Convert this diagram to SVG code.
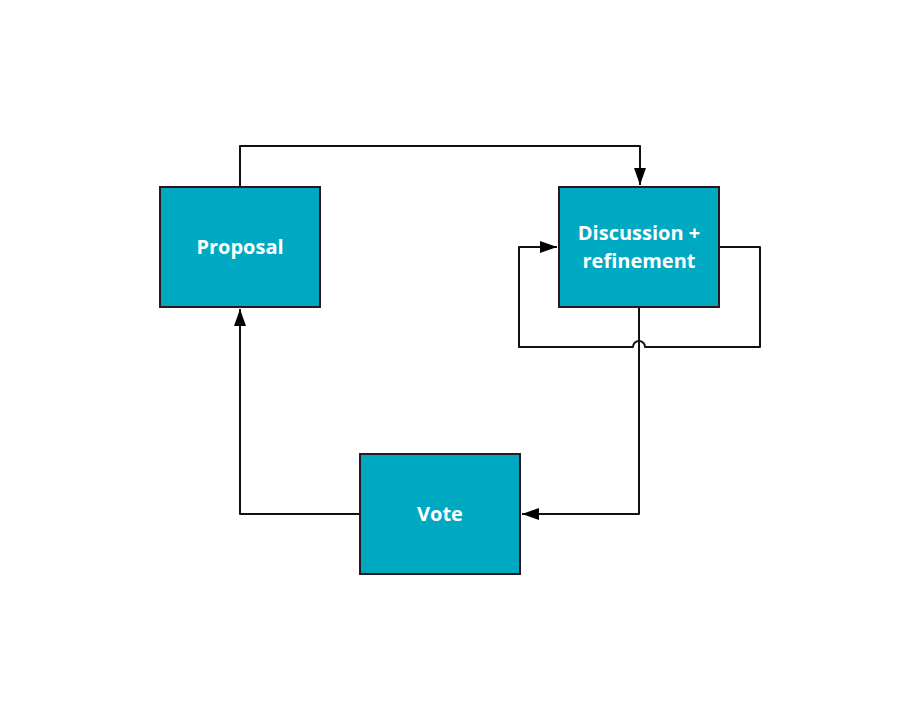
<svg xmlns="http://www.w3.org/2000/svg" width="920" height="720" viewBox="0 0 920 720">
<style>
.box{fill:#00a9c2;stroke:#2a1821;stroke-width:2}
.lbl{font-family:"Open Sans","Liberation Sans",sans-serif;font-weight:bold;font-size:20px;fill:#ffffff;text-anchor:middle}
.edge{fill:none;stroke:#111111;stroke-width:2;stroke-linejoin:round}
</style>
<defs>
<marker id="arr" viewBox="0 0 17 12" refX="17" refY="6" markerWidth="17" markerHeight="12" orient="auto" markerUnits="userSpaceOnUse">
<path d="M0,0 L17,6 L0,12 Z" fill="#000"/>
</marker>
</defs>
<rect width="920" height="720" fill="#ffffff"/>
<g id="connectors">
<path class="edge" d="M240,187 V146 H640 V185" marker-end="url(#arr)"/>
<path class="edge" d="M719,247 H760 V347 H645 A6,6 0 0 0 633,347 H519 V247 H557" marker-end="url(#arr)"/>
<path class="edge" d="M639,307 V514 H522" marker-end="url(#arr)"/>
<path class="edge" d="M360,514 H240 V309" marker-end="url(#arr)"/>
</g>
<g id="proposal">
<rect class="box" x="160" y="187" width="160" height="120"/>
<text class="lbl" x="240" y="254">Proposal</text>
</g>
<g id="discussion">
<rect class="box" x="559" y="187" width="160" height="120"/>
<text class="lbl" x="639" y="240">Discussion +</text>
<text class="lbl" x="639" y="268">refinement</text>
</g>
<g id="vote">
<rect class="box" x="360" y="454" width="160" height="120"/>
<text class="lbl" x="440" y="521">Vote</text>
</g>
</svg>
